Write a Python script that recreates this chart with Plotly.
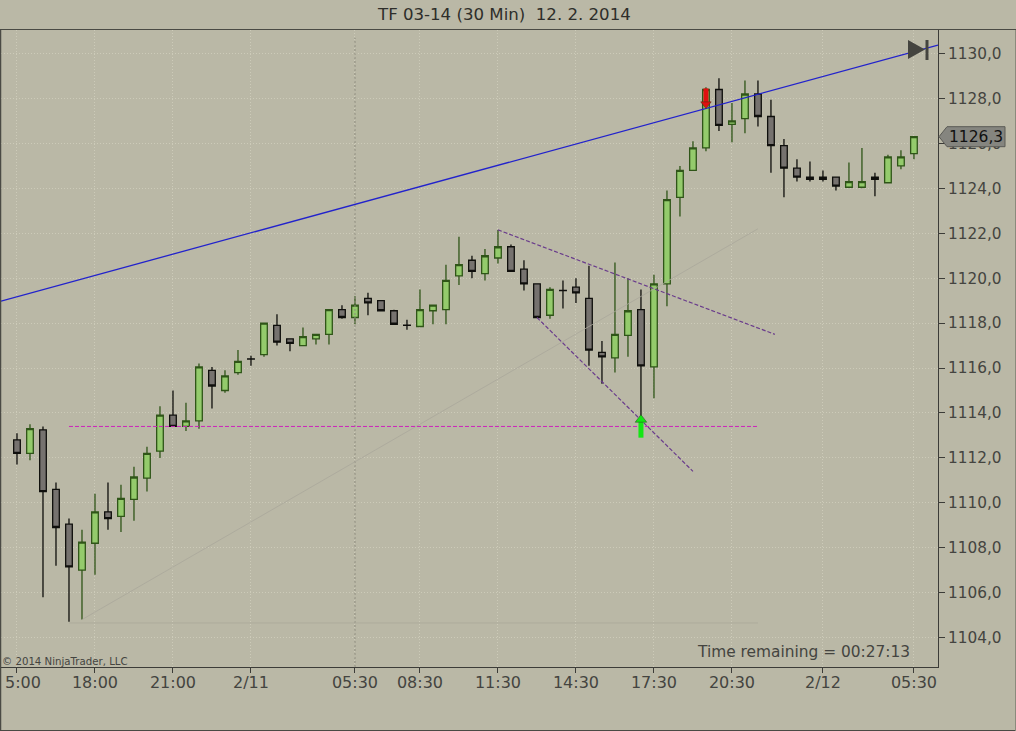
import plotly.graph_objects as go

# ---- data (30 minute bars) ----
bar_index = list(range(70))
opens = [1112.8,1112.2,1113.25,1110.6,1109.05,1107.0,1108.2,1109.6,1109.4,1110.15,
         1111.1,1112.3,1113.9,1113.4,1113.65,1115.9,1115.0,1115.8,1116.41,1116.6,
         1117.9,1117.3,1117.0,1117.3,1117.5,1118.6,1118.25,1119.1,1119.0,1118.55,
         1117.91,1117.85,1118.55,1118.6,1120.1,1120.8,1120.2,1120.9,1121.4,1120.4,
         1119.75,1118.35,1119.46,1119.6,1119.1,1116.7,1116.45,1117.45,1118.6,1116.05,
         1119.75,1123.6,1124.8,1125.8,1128.4,1126.85,1127.1,1128.2,1127.2,1125.9,
         1124.9,1124.5,1124.5,1124.5,1124.05,1124.05,1124.5,1124.25,1125.0,1125.55]
highs = [1113.1,1113.5,1113.4,1110.9,1109.3,1108.8,1110.4,1110.9,1110.8,1111.6,
         1112.5,1114.3,1115.0,1114.45,1116.2,1116.05,1115.9,1116.8,1116.55,1118.0,
         1118.4,1117.3,1117.8,1117.5,1118.6,1118.8,1119.2,1119.35,1119.0,1118.6,
         1118.15,1119.5,1118.8,1120.6,1121.85,1121.0,1121.3,1122.15,1121.5,1120.8,
         1119.75,1119.6,1119.9,1120.0,1120.55,1117.2,1120.7,1120.0,1119.5,1120.15,
         1123.9,1125.0,1126.1,1128.5,1128.9,1127.8,1128.8,1128.8,1127.95,1126.2,
         1125.3,1125.2,1124.8,1124.5,1125.15,1125.8,1124.7,1125.5,1125.7,1126.3]
lows = [1111.7,1111.9,1105.8,1107.2,1104.7,1104.8,1106.8,1108.8,1108.7,1109.2,
        1110.5,1112.0,1113.4,1113.2,1113.3,1114.2,1114.9,1115.7,1116.1,1116.5,
        1117.0,1116.75,1117.0,1117.05,1117.05,1118.2,1117.95,1118.35,1118.55,1117.95,
        1117.7,1117.85,1117.95,1117.95,1119.7,1120.0,1119.9,1120.65,1120.3,1119.45,
        1118.25,1118.2,1118.65,1118.9,1116.1,1115.3,1115.8,1116.5,1113.7,1114.65,
        1118.75,1122.75,1124.8,1125.65,1126.55,1126.05,1126.45,1126.75,1124.7,1123.6,
        1124.3,1124.3,1124.3,1123.9,1124.05,1124.0,1123.65,1124.25,1124.85,1125.3]
closes = [1112.2,1113.3,1110.5,1108.9,1107.15,1108.25,1109.6,1109.3,1110.2,1111.15,
          1112.2,1113.9,1113.4,1113.65,1116.05,1115.2,1115.65,1116.3,1116.4,1118.0,
          1117.15,1117.1,1117.4,1117.5,1118.6,1118.25,1118.8,1118.9,1118.55,1117.95,
          1117.9,1118.6,1118.8,1119.9,1120.6,1120.3,1121.0,1121.4,1120.3,1119.75,
          1118.25,1119.5,1119.45,1119.35,1116.8,1116.5,1117.5,1118.55,1116.1,1119.75,
          1123.5,1124.8,1125.8,1128.4,1126.8,1127.0,1128.2,1127.2,1125.9,1124.9,
          1124.5,1124.4,1124.4,1124.1,1124.3,1124.3,1124.4,1125.4,1125.4,1126.3]

x_tick_index = [0, 6, 12, 18, 26, 31, 37, 43, 49, 55, 62, 69]
x_tick_labels = ["", "18:00", "21:00", "2/11", "05:30", "08:30", "11:30",
                 "14:30", "17:30", "20:30", "2/12", "05:30"]
y_tick_values = list(range(1104, 1131, 2))
y_tick_labels = [f"{v},0" for v in y_tick_values]

x_range = [-1.23, 70.85]
y_range = [1102.69, 1131.05]

trend_blue_x = [-1.23, 70.85]
trend_blue_y = [1118.98, 1130.38]
fib_diag_x = [5, 57]
fib_diag_y = [1104.8, 1122.2]
fib_flat_x = [4, 57]
fib_flat_y = [1104.65, 1104.65]
magenta_x = [4, 57]
magenta_y = [1113.4, 1113.4]
purple_a_x = [37, 58.3]
purple_a_y = [1122.15, 1117.5]
purple_b_x = [40, 52]
purple_b_y = [1118.25, 1111.4]
session_x = [26, 26]
session_y = [1102.69, 1130.7]

buy_arrow_x = [48, 48]
buy_arrow_y = [1112.9, 1113.7]
sell_arrow_x = [53, 53]
sell_arrow_y = [1128.45, 1127.75]
last_price = 1126.3

BG = "#bab8a6"
TXT = "#444440"
FONT = "DejaVu Sans"

fig = go.Figure()

fig.add_trace(go.Scatter(x=session_x, y=session_y, mode="lines",
                         line=dict(color="#8f8d7d", width=1, dash="2px,2px"), hoverinfo="skip"))
fig.add_trace(go.Candlestick(
    x=bar_index, open=opens, high=highs, low=lows, close=closes,
    increasing=dict(fillcolor="#94cb6c", line=dict(color="#2f5518", width=1.3)),
    decreasing=dict(fillcolor="#76726f", line=dict(color="#0f0f0c", width=1.3)),
    whiskerwidth=0, hoverinfo="skip"))

for xs, ys, col, w, dash in [
    (fib_diag_x, fib_diag_y, "rgba(170,168,155,0.8)", 1, "solid"),
    (fib_flat_x, fib_flat_y, "rgba(170,168,155,0.8)", 1, "solid"),
    (magenta_x, magenta_y, "#cc22bb", 1, "4px,2px"),
    (purple_a_x, purple_a_y, "#6a3c8c", 1.2, "4px,2px"),
    (purple_b_x, purple_b_y, "#6a3c8c", 1.2, "4px,2px"),
    (trend_blue_x, trend_blue_y, "#2222cc", 1.3, "solid"),
]:
    fig.add_trace(go.Scatter(x=xs, y=ys, mode="lines",
                             line=dict(color=col, width=w, dash=dash), hoverinfo="skip"))

# entry / exit arrows: shaft + head
fig.add_trace(go.Scatter(x=buy_arrow_x, y=buy_arrow_y, mode="lines",
                         line=dict(color="#14e614", width=5), hoverinfo="skip"))
fig.add_trace(go.Scatter(x=[buy_arrow_x[1]], y=[buy_arrow_y[1]], mode="markers",
                         marker=dict(symbol="triangle-up", size=10, color="#14e614",
                                     line=dict(color="#2a5a20", width=0.6)), hoverinfo="skip"))
fig.add_trace(go.Scatter(x=sell_arrow_x, y=sell_arrow_y, mode="lines",
                         line=dict(color="#e01010", width=5), hoverinfo="skip"))
fig.add_trace(go.Scatter(x=[sell_arrow_x[1]], y=[sell_arrow_y[1]], mode="markers",
                         marker=dict(symbol="triangle-down", size=9, color="#e01010",
                                     line=dict(color="#5a2a10", width=0.6)), hoverinfo="skip"))

W, H = 1016, 731
L, R, T, B = 1, 938, 30, 667
def px_x(p): return (p - L) / (R - L)
def px_y(p): return (B - p) / (B - T)

shapes = [
    # window frame and header rule
    dict(type="line", xref="paper", yref="paper", x0=px_x(0), x1=px_x(1016), y0=px_y(29.5), y1=px_y(29.5),
         line=dict(color="#4a4a44", width=1)),
    dict(type="line", xref="paper", yref="paper", x0=px_x(0.5), x1=px_x(0.5), y0=px_y(30), y1=px_y(731),
         line=dict(color="#4a4a44", width=1.5)),
    dict(type="line", xref="paper", yref="paper", x0=px_x(0), x1=px_x(1016), y0=px_y(730.5), y1=px_y(730.5),
         line=dict(color="#4a4a44", width=1)),
    dict(type="line", xref="paper", yref="paper", x0=px_x(1015.5), x1=px_x(1015.5), y0=px_y(30), y1=px_y(731),
         line=dict(color="#8a8a7c", width=1)),
    # skip-to-end button
    dict(type="path", xref="paper", yref="paper", layer="above", line=dict(width=0), fillcolor="#44443f",
         path=f"M {px_x(908)} {px_y(40)} L {px_x(925)} {px_y(49.5)} L {px_x(908)} {px_y(59)} Z"),
    dict(type="rect", xref="paper", yref="paper", layer="above", line=dict(width=0), fillcolor="#44443f",
         x0=px_x(925.5), x1=px_x(928.5), y0=px_y(40), y1=px_y(60)),
    # current price tag
    dict(type="path", xref="paper", yref="y", xsizemode="pixel", ysizemode="pixel",
         xanchor=1, yanchor=last_price, fillcolor="#85857f", line=dict(color="#5a5a55", width=1),
         path="M 1 0 L 9 -10 L 67 -10 L 67 10 L 9 10 Z"),
]

annotations = [
    dict(text="TF 03-14 (30 Min)  12. 2. 2014", xref="paper", yref="paper", x=px_x(504), y=px_y(14),
         showarrow=False, font=dict(family=FONT, size=16.6, color="#2e2e2a"), xanchor="center", yanchor="middle"),
    dict(text="© 2014 NinjaTrader, LLC", xref="paper", yref="paper", x=px_x(0), y=px_y(661),
         showarrow=False, font=dict(family=FONT, size=10.2, color=TXT), xanchor="left", yanchor="middle"),
    dict(text="Time remaining = 00:27:13", xref="paper", yref="paper", x=px_x(912), y=px_y(652),
         showarrow=False, font=dict(family=FONT, size=15.4, color=TXT), xanchor="right", yanchor="middle"),
    dict(text="1126,3", xref="paper", yref="y", x=px_x(1005), y=last_price,
         showarrow=False, font=dict(family=FONT, size=15.5, color="#111111"), xanchor="right", yanchor="middle"),
    dict(text="5:00", xref="paper", yref="paper", x=px_x(3), y=px_y(682),
         showarrow=False, font=dict(family=FONT, size=16, color=TXT), xanchor="left", yanchor="middle"),
]

fig.update_layout(
    width=W, height=H, autosize=False,
    margin=dict(l=L, r=W - R, t=T, b=H - B, pad=0),
    paper_bgcolor=BG, plot_bgcolor=BG, showlegend=False, boxgap=0.27,
    font=dict(family=FONT, size=15, color=TXT),
    shapes=shapes, annotations=annotations,
    xaxis=dict(type="linear", range=x_range, tickmode="array", tickvals=x_tick_index, ticktext=x_tick_labels,
               rangeslider=dict(visible=False), showgrid=True, griddash="1px,2px", gridcolor="#cdcbb9", gridwidth=1,
               zeroline=False, showline=True, linecolor="#3c3c38", linewidth=1,
               ticks="outside", ticklen=5, tickcolor="#3c3c38", tickangle=0, ticklabelstandoff=-4,
               tickfont=dict(family=FONT, size=16, color=TXT)),
    yaxis=dict(side="right", range=y_range, tickmode="array", tickvals=y_tick_values, ticktext=y_tick_labels,
               showgrid=True, griddash="1px,2px", gridcolor="#cdcbb9", gridwidth=1, zeroline=False,
               showline=True, linecolor="#3c3c38", linewidth=1, mirror=False,
               ticks="outside", ticklen=6, tickcolor="#3c3c38",
               tickfont=dict(family=FONT, size=15.3, color=TXT)),
)

fig.write_html("out.html", config=dict(displayModeBar=False),
               post_script="document.body.style.margin='0';document.body.style.overflow='hidden';")
